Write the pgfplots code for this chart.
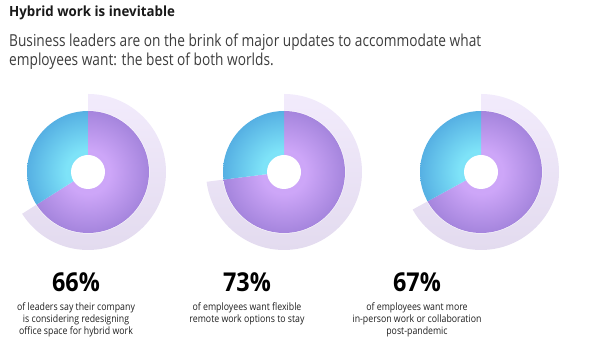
\documentclass[border=0pt]{standalone}
\usepackage{pgfplots}
\pgfplotsset{compat=1.18}
\usepackage{fontspec}
\setmainfont{Open Sans}
\newfontfamily\segoe[FakeStretch=0.86]{Open Sans}
\newfontfamily\segoes[FakeStretch=0.83]{Open Sans}
\newfontfamily\segoet[FakeStretch=0.95]{Open Sans}
\newfontfamily\segoep[FakeStretch=0.9]{Open Sans}
\definecolor{pin}{HTML}{CDA6F8}
\definecolor{pout}{HTML}{A585DD}
\definecolor{bin}{HTML}{7EE3F8}
\definecolor{bout}{HTML}{56B0E3}
\definecolor{rtop}{HTML}{F2EBFC}
\definecolor{rbot}{HTML}{E3DBEF}
\definecolor{subg}{HTML}{3C3C3C}
\pgfdeclareradialshading{purp}{\pgfpoint{0bp}{0bp}}{color(0bp)=(pin); color(9bp)=(pin); color(25bp)=(pout); color(50bp)=(pout)}
\pgfdeclareradialshading{blu}{\pgfpoint{0bp}{0bp}}{color(0bp)=(bin); color(9bp)=(bin); color(25bp)=(bout); color(50bp)=(bout)}
% #1 centre x of donut, #2 percentage, #3 centre x of text, #4 caption
\newcommand{\donut}[4]{%
  \begin{scope}
    \clip (axis cs:#1,191) -- ++(90:78pt) arc[start angle=90, end angle={90-3.6*#2}, radius=78pt] -- cycle;
    \shade[top color=rtop, bottom color=rbot] (axis cs:#1,191) circle[radius=78pt];
  \end{scope}
  \fill[white] (axis cs:#1,191) circle[radius=61.5pt];
  \begin{scope}
    \clip (axis cs:#1,191) -- ++(90:61pt) arc[start angle=90, end angle={90-3.6*#2}, radius=61pt] -- cycle;
    \shade[shading=purp] (axis cs:#1,191) circle[radius=61pt];
  \end{scope}
  \begin{scope}
    \clip (axis cs:#1,191) -- ++({90-3.6*#2}:61pt) arc[start angle={90-3.6*#2}, end angle=-270, radius=61pt] -- cycle;
    \shade[shading=blu] (axis cs:#1,191) circle[radius=61pt];
  \end{scope}
  \fill[white] (axis cs:#1,191) circle[radius=17pt];
  \node[anchor=base, font=\segoep\fontsize{26}{26}\selectfont\bfseries, text=black] at (axis cs:#3,71) {#2\%};
  \node[anchor=north, font=\segoe\fontsize{10.2}{12}\selectfont, text=black!88, align=center, inner sep=0pt] at (axis cs:#3,60.5) {#4};
}
\begin{document}
\begin{tikzpicture}
\begin{axis}[
  x=1pt, y=1pt, xmin=0, xmax=602, ymin=0, ymax=363,
  hide axis, clip=false, scale only axis,
]
\addplot[draw=none] coordinates {(0,0) (602,363)};
\node[anchor=base west, font=\segoet\fontsize{14}{14}\selectfont\bfseries, text=black!90, inner sep=0pt] at (axis cs:9,346) {Hybrid work is inevitable};
\node[anchor=base west, font=\segoes\fontsize{16.5}{16.5}\selectfont, text=subg, inner sep=0pt] at (axis cs:9,316) {Business leaders are on the brink of major updates to accommodate what};
\node[anchor=base west, font=\segoes\fontsize{16.5}{16.5}\selectfont, text=subg, inner sep=0pt] at (axis cs:9,297) {employees want: the best of both worlds.};
\donut{88}{66}{76}{of leaders say their company\\is considering redesigning\\office space for hybrid work}
\donut{284}{73}{247}{of employees want flexible\\remote work options to stay}
\donut{481}{67}{417}{of employees want more\\in-person work or collaboration\\post-pandemic}
\end{axis}
\end{tikzpicture}
\end{document}
